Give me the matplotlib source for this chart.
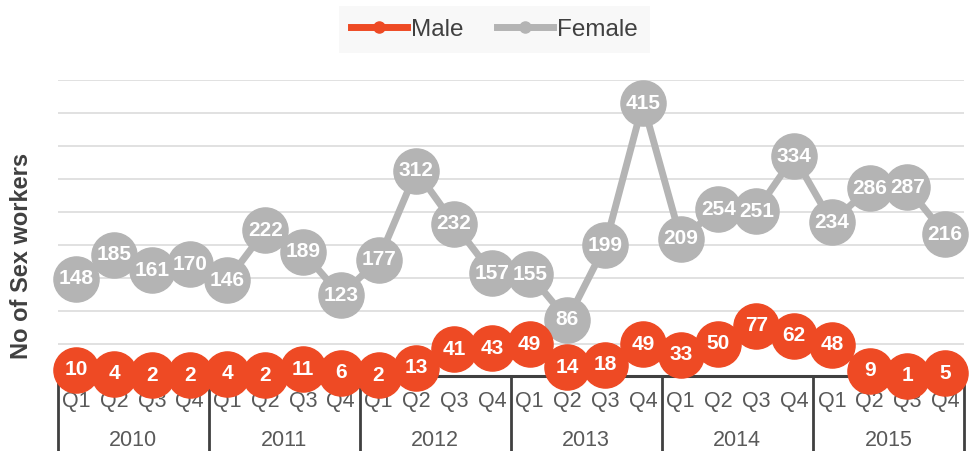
import matplotlib
matplotlib.use("Agg")
import matplotlib.pyplot as plt
from matplotlib.lines import Line2D
from matplotlib.transforms import blended_transform_factory

years = ["2010", "2011", "2012", "2013", "2014", "2015"]
quarters = ["Q1", "Q2", "Q3", "Q4"]
male = [10, 4, 2, 2, 4, 2, 11, 6, 2, 13, 41, 43, 49, 14, 18, 49, 33, 50, 77, 62, 48, 9, 1, 5]
female = [148, 185, 161, 170, 146, 222, 189, 123, 177, 312, 232, 157,
          155, 86, 199, 415, 209, 254, 251, 334, 234, 286, 287, 216]

plt.rcParams['font.family'] = ['Liberation Sans', 'DejaVu Sans']

MALE_C = "#EE4A24"
FEM_C = "#B4B4B4"

fig = plt.figure(figsize=(9.7, 4.51), dpi=100)
ax = fig.add_axes([0.0593, 0.1652, 0.9345, 0.6574])

n = len(male)
x = list(range(n))
ax.set_xlim(-0.5, n - 0.5)
ax.set_ylim(0, 450)
ax.set_yticks(range(50, 451, 50))
ax.yaxis.grid(True, color="#d9d9d9", lw=1.1)
ax.set_axisbelow(True)
ax.tick_params(axis='y', length=0, labelleft=False)
ax.tick_params(axis='x', length=0, labelbottom=False)
for s in ["top", "right", "left"]:
    ax.spines[s].set_visible(False)
ax.spines["bottom"].set_color("#404040")
ax.spines["bottom"].set_linewidth(2.2)

ms = 32.5
ax.plot(x, female, color=FEM_C, lw=5, marker='o', ms=ms, mec=FEM_C,
        mfc=FEM_C, zorder=3, clip_on=False, solid_capstyle='round')
for xi, v in zip(x, female):
    ax.text(xi, v, str(v), ha='center', va='center', color='white',
            fontsize=15, fontweight='bold', zorder=4, clip_on=False)

ax.plot(x, male, color=MALE_C, lw=5, marker='o', ms=ms, mec=MALE_C,
        mfc=MALE_C, zorder=5, clip_on=False, solid_capstyle='round')
for xi, v in zip(x, male):
    ax.text(xi, v, str(v), ha='center', va='center', color='white',
            fontsize=15, fontweight='bold', zorder=6, clip_on=False)

# two-level category axis
tr = blended_transform_factory(ax.transData, fig.transFigure)
for i in range(n):
    ax.text(i, 1 - 402 / 451, quarters[i % 4], transform=tr, ha='center',
            va='center', fontsize=15.5, color="#595959")
for j, yr in enumerate(years):
    ax.text(j * 4 + 1.5, 1 - 440 / 451, yr, transform=tr, ha='center',
            va='center', fontsize=15.5, color="#595959")
for j in range(len(years) + 1):
    xb = j * 4 - 0.5
    ax.add_line(Line2D([xb, xb], [1 - 376.5 / 451, 0], transform=tr,
                       color="#404040", lw=2.0, clip_on=False, zorder=1))

fig.text(22 / 970, 1 - 256 / 451, "No of Sex workers", rotation=90,
         ha='center', va='center', fontsize=17, fontweight='bold',
         color="#404040")

handles = [Line2D([], [], color=MALE_C, lw=5, marker='o', ms=8),
           Line2D([], [], color=FEM_C, lw=5, marker='o', ms=8)]
leg = fig.legend(handles, ["Male", "Female"], loc='center',
                 bbox_to_anchor=(494.5 / 970, 1 - 29.5 / 451), ncol=2,
                 frameon=True, fancybox=False, fontsize=17.5,
                 handlelength=2.3, handletextpad=0.15, columnspacing=1.4,
                 borderpad=0.5, labelcolor="#404040")
leg.get_frame().set_facecolor("#f7f7f7")
leg.get_frame().set_edgecolor("none")

fig.savefig("out.png", dpi=100)
